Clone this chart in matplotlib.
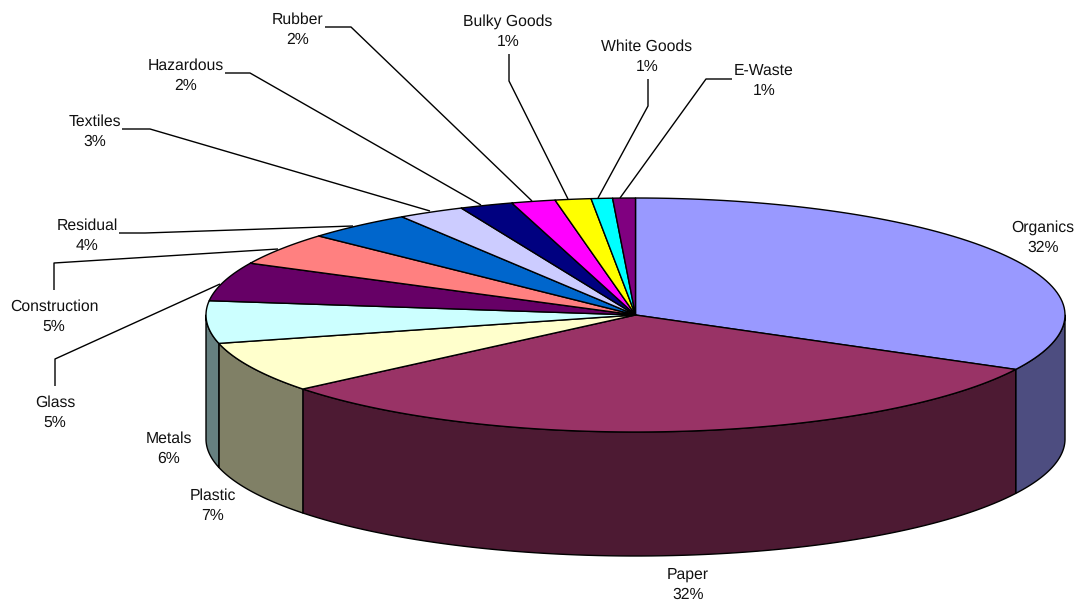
import numpy as np
import matplotlib
matplotlib.use('Agg')
import matplotlib.pyplot as plt
from matplotlib.patches import Polygon

categories = ['Organics', 'Paper', 'Plastic', 'Metals', 'Glass', 'Construction', 'Residual',
              'Textiles', 'Hazardous', 'Rubber', 'Bulky Goods', 'White Goods', 'E-Waste']
values = [32.7, 31.4, 7.0, 5.85, 5.35, 4.5, 4.05, 2.5, 2.0, 1.65, 1.35, 0.8, 0.85]
pct_labels = ['32%', '32%', '7%', '6%', '5%', '5%', '4%', '3%', '2%', '2%', '1%', '1%', '1%']
colors = ['#9999FF', '#993366', '#FFFFCC', '#CCFFFF', '#660066', '#FF8080', '#0066CC',
          '#CCCCFF', '#000080', '#FF00FF', '#FFFF00', '#00FFFF', '#800080']

# layout, in pixels of the 1076x603 picture
CX, CY = 635.5, 315
RX, RY = 429.5, 117
DEPTH = 124
label_pos = [(1043, 238), (688, 585), (213, 506), (169, 449), (55, 413), (54, 317), (87, 236),
             (95, 132), (186, 76), (298, 30), (508, 32), (647, 57), (764, 81)]
leaders = {
    'Glass': [(55, 386), (55, 359), (220, 284)],
    'Construction': [(54, 290), (54, 263), (278, 249)],
    'Residual': [(119, 233), (145, 233), (353, 226)],
    'Textiles': [(122, 129), (150, 129), (430, 211)],
    'Hazardous': [(225, 73), (250, 73), (481, 205)],
    'Rubber': [(325, 27), (351, 27), (532, 201)],
    'Bulky Goods': [(509, 54), (509, 81), (568, 199)],
    'White Goods': [(648, 79), (648, 106), (598, 198)],
    'E-Waste': [(732, 79), (706, 79), (620, 198)],
}


def rim(t):
    # t is degrees clockwise from the top of the pie
    r = np.radians(t)
    return CX + RX * np.sin(r), CY - RY * np.cos(r)


def darken(col):
    rgb = np.array(matplotlib.colors.to_rgb(col))
    return tuple(rgb * 0.5)


plt.rcParams['font.family'] = ['Liberation Sans', 'DejaVu Sans']
plt.rcParams['text.hinting'] = 'no_hinting'

fig = plt.figure(figsize=(10.76, 6.03), dpi=100)
ax = fig.add_axes([0, 0, 1, 1])
ax.set_xlim(0, 1076)
ax.set_ylim(603, 0)
ax.axis('off')

edges = np.concatenate([[0], np.cumsum(values)]) / sum(values) * 360
lw = 1.0

# side walls, only the front half of the pie shows them
for i, col in enumerate(colors):
    a, b = max(edges[i], 90), min(edges[i + 1], 270)
    if b <= a:
        continue
    t = np.linspace(a, b, 80)
    x, y = rim(t)
    pts = np.vstack([np.column_stack([x, y]), np.column_stack([x, y + DEPTH])[::-1]])
    ax.add_patch(Polygon(pts, closed=True, fc=darken(col), ec='black', lw=lw, joinstyle='round'))

# top of the pie
for i, col in enumerate(colors):
    t = np.linspace(edges[i], edges[i + 1], 80)
    x, y = rim(t)
    pts = np.vstack([[CX, CY], np.column_stack([x, y])])
    ax.add_patch(Polygon(pts, closed=True, fc=col, ec='black', lw=lw, joinstyle='round'))

for pts in leaders.values():
    xs, ys = zip(*pts)
    ax.plot(xs, ys, color='black', lw=lw, solid_capstyle='butt')

for name, pct, (x, y) in zip(categories, pct_labels, label_pos):
    ax.text(x, y, name + '\n' + pct, ha='center', va='center', fontsize=11.3,
            color='#111111', linespacing=1.47)

fig.savefig('out.png', dpi=100)
